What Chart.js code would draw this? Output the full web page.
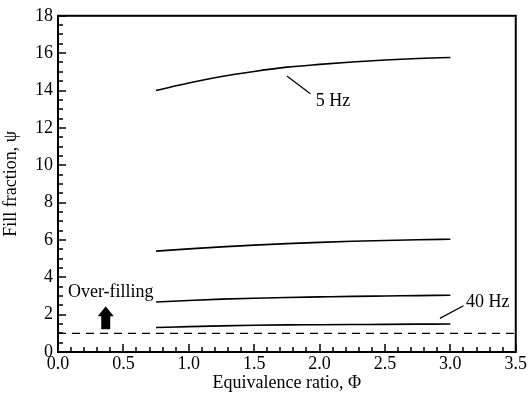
<!DOCTYPE html>
<html>
<head>
<meta charset="utf-8">
<script src="https://cdn.jsdelivr.net/npm/chart.js@4"></script>
<style>
  body { margin: 0; background: #fff; }
  #wrap { width: 528px; height: 394px; }
</style>
</head>
<body>
<div id="wrap"><canvas id="chart"></canvas></div>
<script>
// Equivalence ratio samples and fill fraction curves
const phi = [0.75, 1.0, 1.25, 1.5, 1.75, 2.0, 2.25, 2.5, 2.75, 3.0];
const psi5Hz = [14.0, 14.4, 14.75, 15.02, 15.25, 15.4, 15.53, 15.63, 15.71, 15.77];
const psiB = [5.40, 5.52, 5.63, 5.72, 5.80, 5.87, 5.93, 5.97, 6.01, 6.04];
const psiC = [2.68, 2.76, 2.83, 2.88, 2.92, 2.95, 2.98, 3.00, 3.02, 3.04];
const psi40Hz = [1.31, 1.36, 1.40, 1.43, 1.45, 1.46, 1.47, 1.48, 1.49, 1.50];
const limitX = [0, 3.5];
const limitY = [1, 1];
const xTicks = [0, 0.5, 1.0, 1.5, 2.0, 2.5, 3.0, 3.5];
const yTicks = [0, 2, 4, 6, 8, 10, 12, 14, 16, 18];

const FONT = 'Liberation Serif, Times New Roman, serif';

function pts(xs, ys) {
    return xs.map((x, i) => ({ x: x, y: ys[i] }));
}

function curve(ys) {
    return {
        data: pts(phi, ys),
        borderColor: '#000',
        borderWidth: 1.6,
        pointRadius: 0,
        showLine: true,
        cubicInterpolationMode: 'monotone'
    };
}

// inward ticks, frame box and text annotations
const decorPlugin = {
    id: 'decor',
    afterDraw(chart) {
        const ctx = chart.ctx;
        const xs = chart.scales.x, ys = chart.scales.y;
        const a = chart.chartArea;
        ctx.save();
        ctx.setLineDash([]);

        // frame
        ctx.strokeStyle = '#000';
        ctx.lineWidth = 2;
        ctx.strokeRect(a.left, a.top, a.right - a.left, a.bottom - a.top);

        ctx.lineWidth = 1.5;
        ctx.beginPath();
        // bottom axis: minor every 0.1, major every 0.5
        for (let i = 0; i <= 35; i++) {
            const px = Math.round(xs.getPixelForValue(i / 10));
            const len = i % 5 === 0 ? 8 : 5;
            ctx.moveTo(px, a.bottom);
            ctx.lineTo(px, a.bottom - len);
        }
        // left axis: minor every 0.5, major every 2
        for (let i = 0; i <= 36; i++) {
            const py = Math.round(ys.getPixelForValue(i / 2));
            const len = i % 4 === 0 ? 8 : 5;
            ctx.moveTo(a.left, py);
            ctx.lineTo(a.left + len, py);
        }
        ctx.stroke();

        // leader lines
        ctx.lineWidth = 1.2;
        ctx.beginPath();
        ctx.moveTo(xs.getPixelForValue(1.75), ys.getPixelForValue(14.78));
        ctx.lineTo(xs.getPixelForValue(1.93), ys.getPixelForValue(13.83));
        ctx.moveTo(xs.getPixelForValue(2.92), ys.getPixelForValue(1.80));
        ctx.lineTo(xs.getPixelForValue(3.10), ys.getPixelForValue(2.48));
        ctx.stroke();

        // labels
        ctx.fillStyle = '#000';
        ctx.font = '18px ' + FONT;
        ctx.textBaseline = 'middle';
        ctx.textAlign = 'left';
        ctx.fillText('5 Hz', xs.getPixelForValue(1.97), ys.getPixelForValue(13.4));
        ctx.fillText('40 Hz', xs.getPixelForValue(3.12), ys.getPixelForValue(2.64));
        ctx.fillText('Over-filling', xs.getPixelForValue(0.076), ys.getPixelForValue(3.22));

        // up arrow
        const ax = xs.getPixelForValue(0.365);
        const aTop = ys.getPixelForValue(2.45);
        const aBot = ys.getPixelForValue(1.22);
        ctx.beginPath();
        ctx.moveTo(ax, aTop);
        ctx.lineTo(ax + 8, aTop + 10);
        ctx.lineTo(ax + 4.5, aTop + 10);
        ctx.lineTo(ax + 4.5, aBot);
        ctx.lineTo(ax - 4.5, aBot);
        ctx.lineTo(ax - 4.5, aTop + 10);
        ctx.lineTo(ax - 8, aTop + 10);
        ctx.closePath();
        ctx.fill();
        ctx.restore();
    }
};

new Chart(document.getElementById('chart'), {
    type: 'scatter',
    data: {
        datasets: [
            curve(psi5Hz),
            curve(psiB),
            curve(psiC),
            curve(psi40Hz),
            {
                data: pts(limitX, limitY),
                borderColor: '#000',
                borderWidth: 1.3,
                borderDash: [8, 6],
                pointRadius: 0,
                showLine: true
            }
        ]
    },
    options: {
        responsive: true,
        maintainAspectRatio: false,
        animation: false,
        layout: { padding: { top: 11, right: 9, left: 0, bottom: 0 } },
        plugins: {
            legend: { display: false },
            tooltip: { enabled: false }
        },
        scales: {
            x: {
                type: 'linear',
                min: 0,
                max: 3.5,
                afterFit: s => { s.height = 42; },
                afterBuildTicks: s => { s.ticks = xTicks.map(v => ({ value: v })); },
                grid: { display: false, drawTicks: false, tickLength: 0 },
                border: { display: false },
                ticks: {
                    color: '#000',
                    padding: 1,
                    font: { family: FONT, size: 18 },
                    callback: v => v.toFixed(1)
                },
                title: {
                    display: true,
                    text: 'Equivalence ratio, Φ',
                    color: '#000',
                    padding: { top: 2, bottom: 0 },
                    font: { family: FONT, size: 18 }
                }
            },
            y: {
                type: 'linear',
                min: 0,
                max: 18,
                afterFit: s => { s.width = 58; },
                afterBuildTicks: s => { s.ticks = yTicks.map(v => ({ value: v })); },
                grid: { display: false, drawTicks: false, tickLength: 0 },
                border: { display: false },
                ticks: {
                    color: '#000',
                    padding: 5,
                    font: { family: FONT, size: 18 }
                },
                title: {
                    display: true,
                    text: 'Fill fraction, ψ',
                    color: '#000',
                    padding: { top: 0, bottom: 4 },
                    font: { family: FONT, size: 18 }
                }
            }
        }
    },
    plugins: [decorPlugin]
});
</script>
</body>
</html>
